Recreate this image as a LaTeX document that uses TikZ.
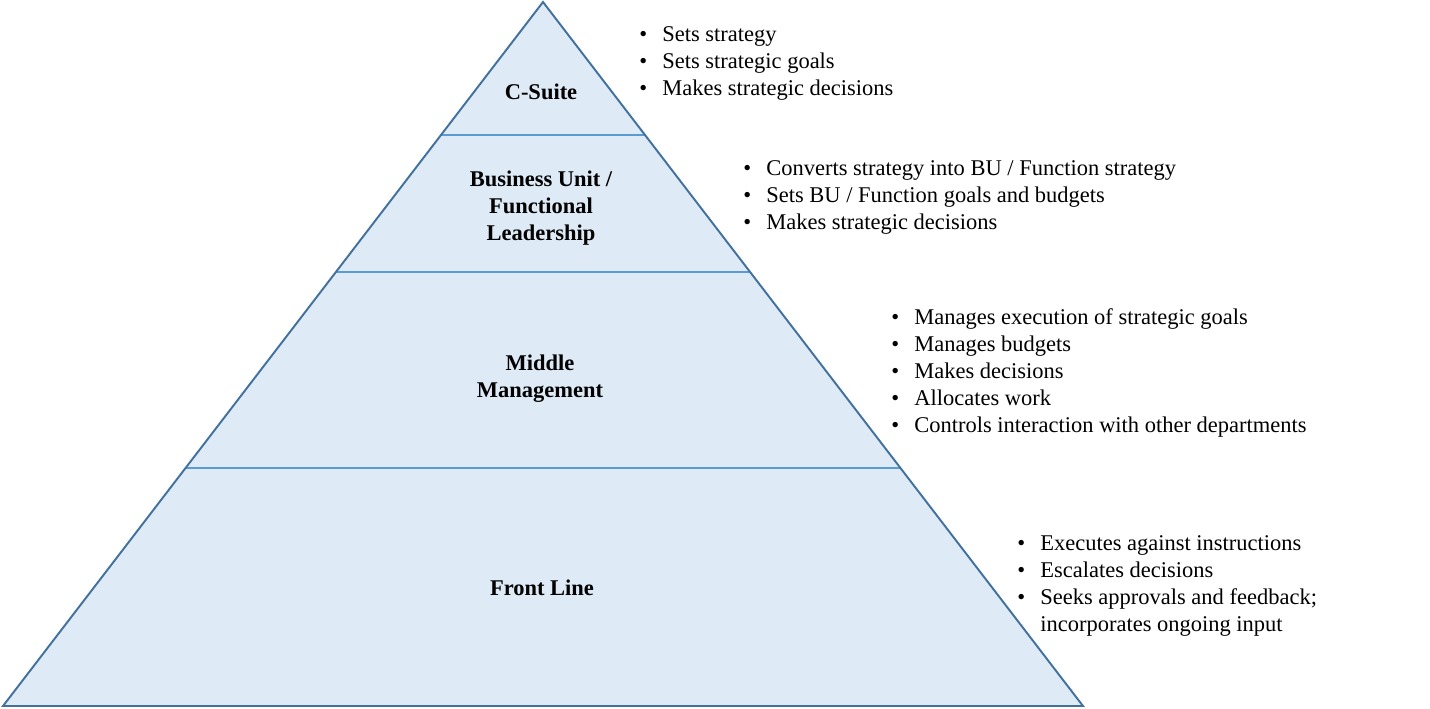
\documentclass[tikz,border=0pt]{standalone}
\usepackage{fontspec}
\setmainfont{Liberation Serif}
\usetikzlibrary{calc,positioning}
\definecolor{layerfill}{HTML}{DEEAF6}
\definecolor{edgeblue}{HTML}{41719C}
\definecolor{splitblue}{HTML}{5B9BD5}
\newcommand{\pts}[1]{\begin{tabular}[t]{@{}p{0.46cm}@{}l@{}}#1\end{tabular}}
\newcommand{\pt}{\textbullet &}

\begin{document}
\begin{tikzpicture}[x=0.02cm, y=-0.02cm, inner sep=0pt,
			layer/.style={font=\fontsize{12.8}{15.4}\selectfont\bfseries, align=center},
			notes/.style={font=\fontsize{12.8}{15.4}\selectfont, anchor=base west},
			split/.style={draw=splitblue, line width=1.6pt}]
			\useasboundingbox (0,0) rectangle (1430,708);
			\coordinate (apex) at (543,2);
			\coordinate (bl) at (3,706);
			\coordinate (br) at (1083,706);
			\fill[layerfill] (apex) -- (bl) -- (br) -- cycle;
			% layer borders
			\foreach \t/\n in {0.1889/a, 0.3835/b, 0.6619/c}
				\draw[split] ($(apex)!\t!(bl)$) coordinate (l\n) -- ($(apex)!\t!(br)$) coordinate (r\n);
			\draw[edgeblue, line width=1.1pt, line join=miter] (apex) -- (bl) -- (br) -- cycle;
			\node [layer] (csuite) at (541,92) {C-Suite};
			\node [layer] (bu) at (541,208) {Business Unit /\\Functional\\Leadership};
			\node [layer] (mid) at (540,379) {Middle\\Management};
			\node [layer] (front) at (542,588) {Front Line};
			\node [notes] (csnotes) at (639,41) {\pts{\pt Sets strategy\\ \pt Sets strategic goals\\ \pt Makes strategic decisions}};
			\node [notes] (bunotes) at (743,175) {\pts{\pt Converts strategy into BU / Function strategy\\ \pt Sets BU / Function goals and budgets\\ \pt Makes strategic decisions}};
			\node [notes] (midnotes) at (891,324) {\pts{\pt Manages execution of strategic goals\\ \pt Manages budgets\\ \pt Makes decisions\\ \pt Allocates work\\ \pt Controls interaction with other departments}};
			\node [notes] (frontnotes) at (1017,550) {\pts{\pt Executes against instructions\\ \pt Escalates decisions\\ \pt Seeks approvals and feedback;\\ & incorporates ongoing input}};
		\end{tikzpicture}
\end{document}
